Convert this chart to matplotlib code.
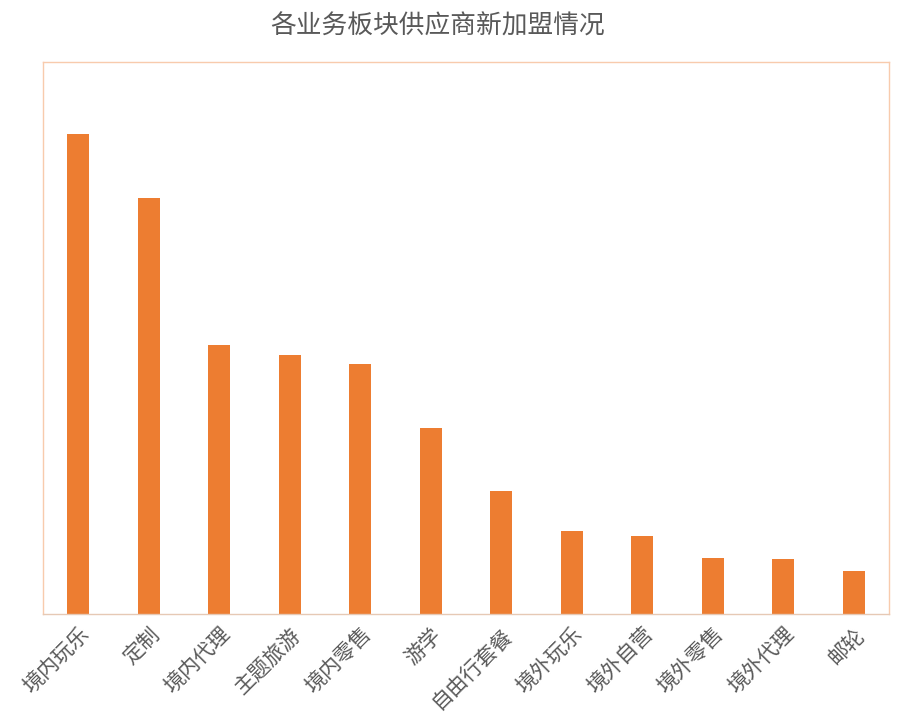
import matplotlib.pyplot as plt

plt.rcParams['font.family'] = ['Noto Sans CJK SC', 'DejaVu Sans']

# categories and new supplier counts
categories = ['境内玩乐', '定制', '境内代理', '主题旅游', '境内零售', '游学',
              '自由行套餐', '境外玩乐', '境外自营', '境外零售', '境外代理', '邮轮']
values = [480, 416, 269, 259, 250, 186, 123, 83, 78, 56, 55, 43]

fig = plt.figure(figsize=(9.09, 7.19), dpi=100)
ax = fig.add_axes([0.0473, 0.146, 0.9307, 0.768])

x = range(len(categories))
ax.bar(x, values, width=0.31, color='#ED7D31', zorder=2)

ax.set_xlim(-0.5, len(categories) - 0.5)
ax.set_ylim(0, 552)
ax.set_yticks([])
ax.set_xticks(list(x))
ax.set_xticklabels(categories, rotation=45, ha='right', rotation_mode='anchor',
                   fontsize=15, color='#595959', fontweight='light')
ax.tick_params(axis='x', length=0, pad=7)

for s in ax.spines.values():
    s.set_color('#F8CBAD')
    s.set_linewidth(1)
ax.spines['bottom'].set_color('#E6C9B5')

fig.text(0.481, 0.963, '各业务板块供应商新加盟情况', ha='center', va='center',
         fontsize=18.5, color='#595959')

fig.savefig('out.png', dpi=100)
